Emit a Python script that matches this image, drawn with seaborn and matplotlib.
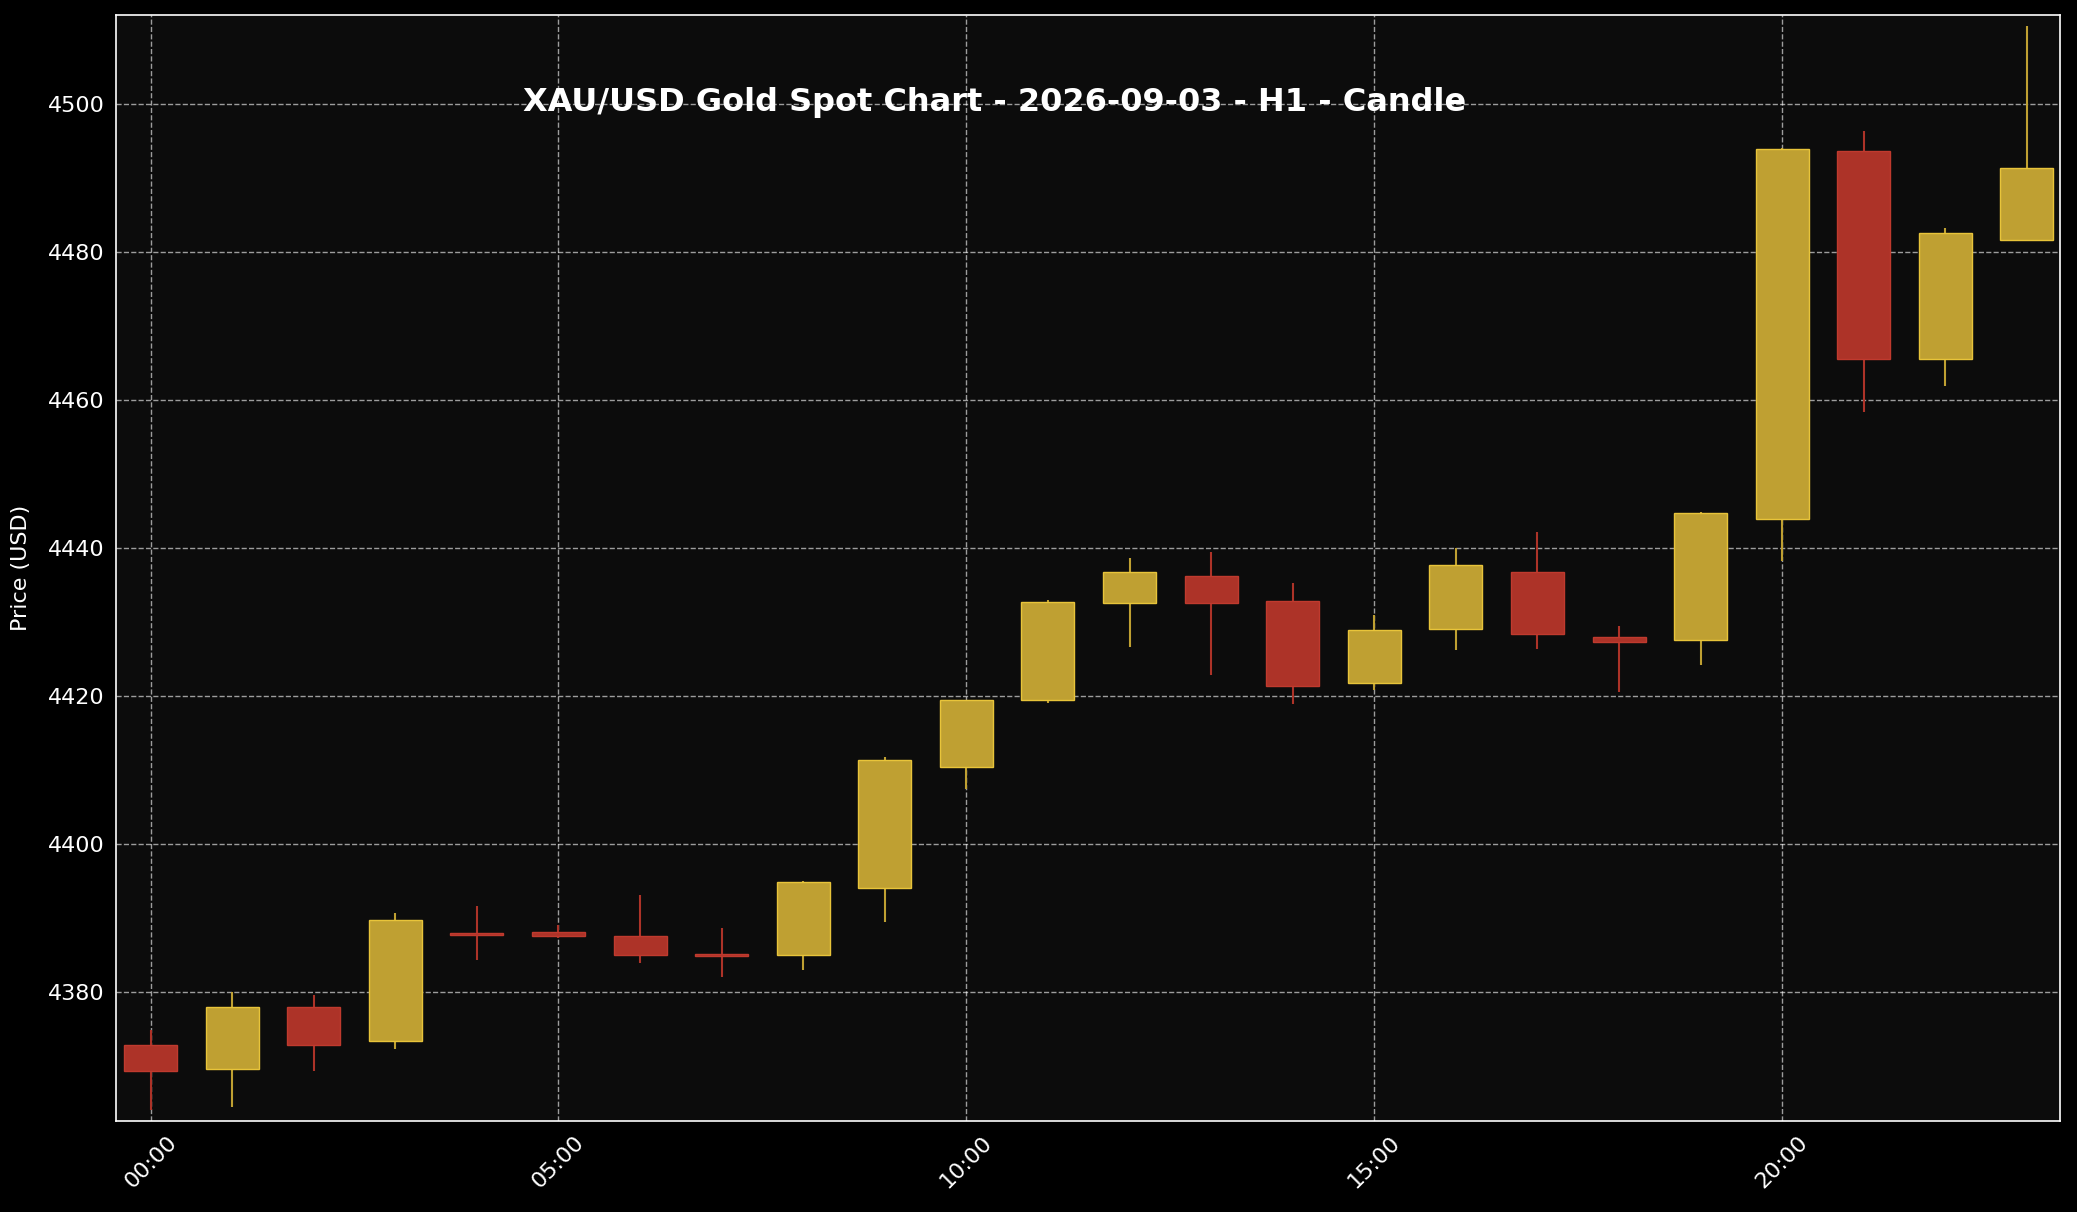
import numpy as np
import pandas as pd
import seaborn as sns
import matplotlib.pyplot as plt

hours = [f"{h:02d}:00" for h in range(24)]
opens = [4372.8, 4369.6, 4377.9, 4373.4, 4387.8, 4388.1, 4387.5, 4385.0, 4385.0, 4394.1, 4410.4, 4419.4,
         4432.5, 4436.2, 4432.8, 4421.7, 4429.1, 4436.8, 4428.0, 4427.5, 4443.9, 4493.6, 4465.6, 4481.6]
closes = [4369.3, 4377.9, 4372.8, 4389.7, 4387.7, 4387.5, 4385.0, 4384.9, 4394.9, 4411.3, 4419.4, 4432.7,
          4436.8, 4432.5, 4421.4, 4428.9, 4437.7, 4428.4, 4427.3, 4444.7, 4493.9, 4465.5, 4482.6, 4491.4]
highs = [4374.8, 4380.0, 4379.6, 4390.6, 4391.6, 4389.0, 4393.1, 4388.6, 4395.0, 4411.7, 4419.5, 4433.0,
         4438.7, 4439.5, 4435.3, 4431.0, 4440.0, 4442.2, 4429.4, 4444.8, 4494.0, 4496.4, 4483.3, 4510.6]
lows = [4364.1, 4364.4, 4369.3, 4372.3, 4384.3, 4387.3, 4383.9, 4382.0, 4383.0, 4389.5, 4407.4, 4419.0,
        4426.6, 4422.8, 4418.9, 4420.8, 4426.2, 4426.4, 4420.5, 4424.2, 4438.2, 4458.4, 4461.9, 4481.6]

df = pd.DataFrame({"hour": hours, "open": opens, "close": closes, "high": highs, "low": lows})
df["x"] = np.arange(len(df))

GOLD = "#BFA032"
RED = "#AD3328"

sns.set_theme(style="darkgrid")
plt.rcParams["font.family"] = ["DejaVu Sans"]

fig = plt.figure(figsize=(20.77, 12.12), dpi=100, facecolor="black")
ax = fig.add_axes([0.056, 0.0754, 0.936, 0.912])
ax.set_facecolor("#0c0c0c")

up = df["close"] >= df["open"]
colors = [GOLD if u else RED for u in up]
edge = ["#E8C43A" if u else "#C03A2E" for u in up]
ax.vlines(df["x"], df["low"], df["high"], colors=colors, linewidth=1.5, zorder=2)
bottoms = np.minimum(df["open"], df["close"])
heights = np.maximum(np.abs(df["close"] - df["open"]), 0.25)
ax.bar(df["x"], heights, bottom=bottoms, width=0.65, color=colors, edgecolor=edge, linewidth=1, zorder=3)

ax.set_xlim(-0.42, 23.41)
ax.set_ylim(4362.6, 4512)
ax.set_xticks(df["x"][::5])
ax.set_xticklabels(df["hour"][::5], rotation=45, color="white", fontsize=16)
ax.set_yticks(range(4380, 4501, 20))
ax.tick_params(axis="y", colors="white", labelsize=16, length=5)
ax.tick_params(axis="x", colors="white", length=5)
ax.set_ylabel("Price (USD)", color="white", fontsize=16, labelpad=12)
ax.grid(True, color="white", linestyle="--", linewidth=1, alpha=0.6)
for s in ax.spines.values():
    s.set_visible(True)
    s.set_color("white")
    s.set_linewidth(1.2)

ax.text(0.452, 0.921, "XAU/USD Gold Spot Chart - 2026-09-03 - H1 - Candle", transform=ax.transAxes,
        ha="center", va="center", color="white", fontsize=23, fontweight="bold")

fig.savefig("out.png", dpi=100, facecolor="black")
